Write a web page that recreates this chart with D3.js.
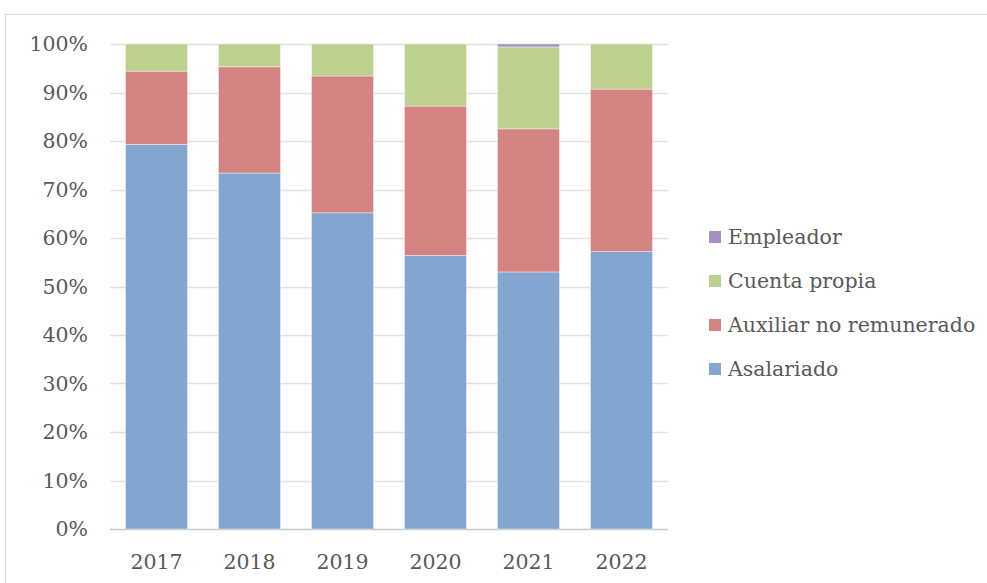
<!DOCTYPE html>
<html>
<head>
<meta charset="utf-8">
<script src="https://cdn.jsdelivr.net/npm/d3@7"></script>
<style>
  body { margin: 0; background: #fff; }
  text { font-family: "DejaVu Serif", serif; fill: #595959; }
</style>
</head>
<body>
<svg id="chart" width="987" height="583"></svg>
<script>
// Data (share of workers, %)
const years = ["2017", "2018", "2019", "2020", "2021", "2022"];
const asalariado = [79.3, 73.4, 65.2, 56.4, 53.0, 57.2];
const auxiliar = [15.1, 21.9, 28.2, 30.8, 29.5, 33.5];
const cuentaPropia = [5.6, 4.7, 6.6, 12.8, 16.9, 9.3];
const empleador = [0, 0, 0, 0, 0.6, 0];
const yTicks = [0, 10, 20, 30, 40, 50, 60, 70, 80, 90, 100];

const series = [
  { key: "Asalariado", values: asalariado, color: "#82a6cf" },
  { key: "Auxiliar no remunerado", values: auxiliar, color: "#d48282" },
  { key: "Cuenta propia", values: cuentaPropia, color: "#bcd08f" },
  { key: "Empleador", values: empleador, color: "#a690c3" },
];

const rows = years.map((year, i) => {
  const row = { year };
  series.forEach((s) => (row[s.key] = s.values[i]));
  return row;
});

const svg = d3.select("#chart");

// outer chart frame
svg.append("rect")
  .attr("x", 5.5).attr("y", 14.5)
  .attr("width", 1000).attr("height", 600)
  .attr("fill", "none").attr("stroke", "#d9d9d9");

const plot = { left: 110, right: 668, top: 44, bottom: 529 };

const x = d3.scaleBand().domain(years).range([plot.left, plot.right]).paddingInner(0.333).paddingOuter(0.1665);
const y = d3.scaleLinear().domain([0, 100]).range([plot.bottom, plot.top]);

// gridlines
svg.append("g")
  .selectAll("line")
  .data(yTicks)
  .join("line")
  .attr("x1", plot.left).attr("x2", plot.right)
  .attr("y1", (d) => Math.round(y(d)) + 0.5).attr("y2", (d) => Math.round(y(d)) + 0.5)
  .attr("stroke", (d) => (d === 0 ? "#c8c8c8" : "#e2e2e2"))
  .attr("stroke-width", 1.5);

// stacked bars
const stack = d3.stack().keys(series.map((s) => s.key))(rows);
svg.append("g")
  .selectAll("g")
  .data(stack)
  .join("g")
  .attr("fill", (d, i) => series[i].color)
  .selectAll("rect")
  .data((d) => d)
  .join("rect")
  .attr("x", (d) => x(d.data.year))
  .attr("width", x.bandwidth())
  .attr("y", (d) => y(d[1]))
  .attr("height", (d) => y(d[0]) - y(d[1]))
  .attr("stroke", "rgba(255,255,255,0.5)")
  .attr("stroke-width", 0.8);

// y axis labels
svg.append("g")
  .selectAll("text")
  .data(yTicks)
  .join("text")
  .attr("x", 88)
  .attr("y", (d) => y(d))
  .attr("dy", "0.35em")
  .attr("text-anchor", "end")
  .attr("font-size", 20.5)
  .text((d) => d + "%");

// x axis labels
svg.append("g")
  .selectAll("text")
  .data(years)
  .join("text")
  .attr("x", (d) => x(d) + x.bandwidth() / 2)
  .attr("y", 569)
  .attr("text-anchor", "middle")
  .attr("font-size", 20.5)
  .text((d) => d);

// legend (reverse order, top is Empleador)
const legendItems = series.slice().reverse();
const legend = svg.append("g")
  .selectAll("g")
  .data(legendItems)
  .join("g")
  .attr("transform", (d, i) => `translate(709, ${237 + i * 44})`);

legend.append("rect")
  .attr("x", 0).attr("y", -6)
  .attr("width", 12).attr("height", 12)
  .attr("fill", (d) => d.color);

legend.append("text")
  .attr("x", 19)
  .attr("dy", "0.35em")
  .attr("font-size", 20.5)
  .text((d) => d.key);
</script>
</body>
</html>
